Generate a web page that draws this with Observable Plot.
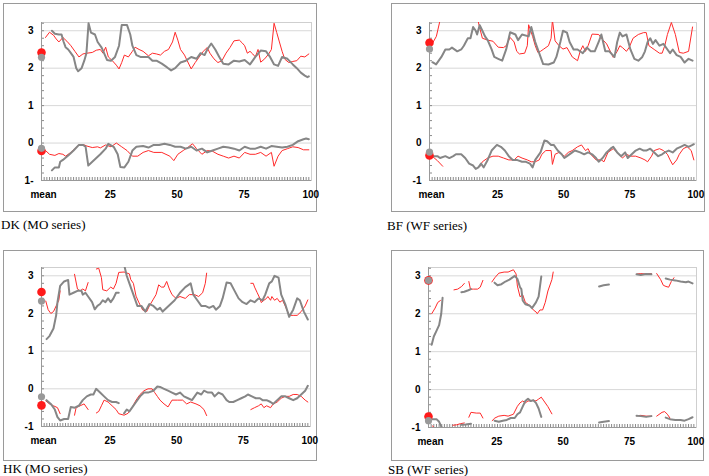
<!DOCTYPE html>
<html><head><meta charset="utf-8">
<script src="https://cdn.jsdelivr.net/npm/d3@7"></script>
<script src="https://cdn.jsdelivr.net/npm/@observablehq/plot@0.6"></script>
<style>
html,body{margin:0;padding:0;background:#fff}
body{width:709px;height:476px;position:relative;overflow:hidden}
.panel{position:absolute;border:1px solid #9a9a9a;box-sizing:border-box;background:#fff}
.panel svg{position:absolute;left:0;top:0}
.cap{position:absolute;font-family:"Liberation Serif","Times New Roman",serif;font-size:13px;line-height:13px;color:#000;white-space:nowrap}
</style></head><body>
<script>
// ---------- tick labels ----------
const xMajor = [0, 25, 50, 75, 100];
const xMinor = d3.range(1, 101);
const yMajor = [-1, 0, 1, 2, 3];
const yMinor = d3.range(-0.8, 3.21, 0.2);

// ---------- DK (MO series) ----------
const dkRedHi = [[1.5,2.82],[3,2.96],[4.5,2.88],[5.5,2.78],[6.5,2.7],[8,2.82],[9.5,2.72],[11,2.6],[12.5,2.45],[14,2.3],[15.5,2.38],[17,2.4],[19,2.42],[20.5,2.48],[22,2.5],[23,2.4],[24,2.56],[25,2.3],[26.5,2.2],[28,2.08],[29,1.98],[30,2.15],[31,2.35],[32.5,2.3],[34,2.45],[35,2.56],[36.5,2.5],[38,2.45],[40,2.33],[41.5,2.4],[43,2.38],[44.5,2.35],[46,2.45],[47.5,2.5],[49,2.7],[50,2.96],[51,2.75],[52,2.5],[53.5,2.35],[54.5,2.2],[56,1.98],[57.5,2.15],[59,2.3],[60.5,2.45],[62,2.55],[63,2.4],[64.5,2.25],[66,2.15],[67.5,2.2],[69,2.4],[70.5,2.55],[72,2.73],[74,2.75],[75,2.68],[76,2.6],[77,2.4],[78,2.45],[79,2.38],[80,2.3],[81,2.5],[82,2.16],[83.5,2.25],[85,2.38],[86,2.5],[87,3.2],[88,2.95],[89,2.7],[90,2.45],[91,2.24],[92.5,2.15],[94,2.18],[95.5,2.2],[97,2.32],[98.5,2.3],[100,2.38]];
const dkGrayHi = [[3.9,3.0],[5,2.92],[6.5,2.9],[7.5,2.9],[8.2,2.72],[9,2.56],[10,2.5],[11,2.4],[12,2.3],[13,2.0],[13.7,1.92],[15,2.0],[16,2.2],[16.8,2.4],[17.6,3.2],[18.5,2.95],[20,2.9],[21,2.7],[22.5,2.55],[24.5,2.22],[26,2.2],[27.5,2.3],[29,2.6],[30,3.15],[32,3.15],[33.2,2.9],[34,2.6],[35.5,2.35],[37,2.3],[38.5,2.3],[40,2.3],[41.5,2.2],[43,2.2],[45,2.12],[47,2.02],[48.5,1.94],[50,2.0],[52,2.15],[54,2.2],[56,2.3],[58,2.25],[59.5,2.4],[61,2.35],[62,2.5],[63.5,2.66],[65,2.5],[66.5,2.3],[68,2.12],[70,2.1],[72,2.2],[74,2.18],[76,2.22],[78,2.1],[80,2.3],[82,2.47],[84,2.45],[85.5,2.3],[87,2.1],[88.5,2.06],[90,2.3],[92,2.25],[94,2.1],[95.5,2.0],[97,1.88],[98.5,1.8],[99.5,1.76],[100,1.78]];
const dkRedLo = [[1.5,-0.2],[3,-0.3],[5,-0.33],[6.5,-0.28],[8,-0.3],[9,-0.35],[11,-0.25],[12.5,-0.15],[14,-0.05],[16,-0.05],[17,-0.08],[19,-0.12],[21,-0.1],[22,-0.13],[24,-0.05],[26,-0.1],[28,0.0],[30,-0.1],[32,-0.2],[34,-0.35],[36,-0.35],[38,-0.25],[40,-0.2],[42,-0.25],[45,-0.25],[48,-0.35],[49.5,-0.47],[51,-0.3],[53,-0.2],[55,-0.1],[56.5,-0.02],[58,-0.15],[60,-0.3],[62,-0.2],[64,-0.22],[66,-0.3],[68,-0.35],[70,-0.4],[72,-0.35],[74,-0.4],[76,-0.25],[78,-0.3],[80,-0.3],[82,-0.25],[84,-0.35],[86,-0.25],[87,-0.62],[88.5,-0.35],[90,-0.2],[92,-0.15],[94,-0.1],[96,-0.12],[98,-0.18],[100,-0.18]];
const dkGrayLo = [[3.9,-0.73],[5,-0.65],[6.5,-0.65],[7,-0.5],[8,-0.45],[10,-0.33],[12,-0.2],[14,-0.05],[15.5,-0.05],[16.5,-0.1],[17.5,-0.6],[19,-0.5],[20.5,-0.4],[22,-0.3],[24,-0.15],[25,-0.02],[27,-0.1],[28.5,-0.3],[29.5,-0.64],[31,-0.65],[32.5,-0.5],[34,-0.2],[35.5,-0.1],[38,-0.08],[40,-0.12],[42,-0.05],[44,-0.05],[46,-0.02],[48,-0.05],[50,-0.1],[52,-0.1],[54,-0.15],[56,-0.1],[58,-0.2],[60,-0.15],[62,-0.25],[64,-0.2],[66,-0.15],[68,-0.1],[70,-0.12],[72,-0.15],[74,-0.2],[76,-0.1],[78,-0.15],[80,-0.15],[82,-0.1],[84,-0.15],[86,-0.08],[88,-0.1],[90,-0.12],[92,-0.1],[94,-0.05],[96,0.05],[98,0.1],[99,0.12],[100,0.1]];
const dkMeanRed = [2.42, -0.21];
const dkMeanGray = [2.29, -0.14];

// ---------- BF (WF series) ----------
const bfRedHi = [[1.4,2.7],[2.6,2.85],[3.9,3.25],[4.5,3.4],[5,null],[18,3.4],[18.8,3.13],[20,2.8],[22,2.75],[24,2.72],[26,2.56],[28,2.55],[29,2.6],[30.5,2.82],[32,2.7],[33,2.45],[34,2.38],[36,2.4],[37,2.6],[37.5,3.16],[39,2.85],[40,2.6],[41,2.42],[42,2.45],[43,2.5],[45,2.6],[46,2.8],[46.5,3.29],[47.5,2.73],[49,2.6],[50.5,2.51],[52,2.55],[54,2.3],[56,2.2],[57,2.45],[58,2.6],[59,2.45],[60,2.6],[61.5,2.91],[64,2.9],[65,2.8],[67,2.65],[69.5,2.29],[71,2.45],[72,2.6],[73,2.55],[74.5,2.45],[75.5,2.55],[77,2.8],[79,2.9],[81,2.95],[82,2.95],[83,2.6],[85,2.5],[87,2.4],[88,2.4],[89,2.6],[90,2.9],[91.5,3.22],[93,2.9],[94.5,2.42],[96,2.4],[98,2.45],[99.5,3.1]];
const bfGrayHi = [[1.1,2.16],[2.5,2.1],[4.5,2.3],[6,2.5],[7.5,2.5],[8.5,2.55],[10.5,2.45],[12,2.5],[13,2.6],[14.5,2.8],[15.5,2.8],[16.5,3.1],[17.5,3.0],[18,2.9],[19,3.15],[20,3.0],[21,2.85],[22,2.75],[23.5,2.5],[24.5,2.3],[26,2.25],[27.5,2.2],[29,2.5],[30.5,2.96],[32.5,2.9],[33.5,2.75],[35,2.9],[37.5,2.85],[38.5,3.1],[40,2.7],[42,2.3],[43,2.11],[45,2.1],[47,2.15],[48,2.3],[49.5,2.7],[50.5,3.0],[52,2.95],[53,2.7],[54.5,2.5],[56,2.5],[58,2.4],[59.5,2.55],[61,2.45],[62.5,2.45],[64,2.7],[65,2.9],[66.5,2.45],[68,2.45],[70,2.3],[71,2.7],[72,2.95],[73,2.85],[74.5,2.9],[76,2.5],[77.5,2.25],[79,2.2],[80.5,2.3],[81.5,2.45],[82.5,2.7],[83.5,2.8],[84.5,2.65],[85.5,2.75],[87,2.6],[88.5,2.65],[90,2.5],[91,2.4],[92,2.5],[93.5,2.35],[95,2.3],[96.5,2.15],[98,2.25],[99.5,2.2]];
const bfRedLo = [[1,-0.35],[3,-0.47],[5,-0.62],[5.5,null],[19,-0.63],[20,-0.5],[22,-0.4],[24,-0.35],[26,-0.35],[28,-0.4],[30,-0.45],[32,-0.45],[33.5,-0.35],[35,-0.4],[37,-0.45],[38.5,-0.5],[40,-0.5],[41.5,-0.45],[42.5,-0.3],[44,-0.2],[46,-0.2],[46.5,-0.57],[47.5,-0.3],[49,-0.25],[51,-0.35],[52.5,-0.25],[54,-0.2],[56,-0.1],[57.5,-0.05],[59,-0.2],[60,-0.15],[61,-0.3],[63,-0.45],[65,-0.45],[66,-0.5],[67.5,-0.25],[69.5,-0.15],[71,-0.25],[73,-0.4],[74.5,-0.3],[76,-0.35],[78,-0.35],[80,-0.4],[81.5,-0.45],[82.5,-0.5],[84,-0.35],[85,-0.2],[87,-0.15],[88.5,-0.2],[90,-0.3],[91,-0.45],[92,-0.58],[93.5,-0.45],[94.5,-0.3],[96,-0.15],[97.5,-0.1],[99,-0.2],[100,-0.45]];
const bfGrayLo = [[1,-0.35],[3,-0.35],[4,-0.4],[6,-0.35],[7.5,-0.4],[9,-0.35],[10,-0.3],[12,-0.3],[13.5,-0.4],[15,-0.55],[16.5,-0.6],[17.5,-0.69],[18.5,-0.65],[19.5,-0.55],[20.5,-0.65],[22,-0.45],[23.5,-0.2],[25.5,-0.05],[27,-0.1],[28.5,-0.2],[30,-0.35],[31.5,-0.45],[33,-0.45],[35,-0.5],[36.5,-0.5],[38,-0.55],[39,-0.65],[40,-0.45],[42,-0.25],[43.5,0.07],[44.5,0.05],[46,-0.05],[47,-0.05],[48.5,-0.2],[50,-0.3],[51,-0.4],[52,-0.35],[54,-0.25],[55,-0.2],[57,-0.25],[58.5,-0.3],[60,-0.25],[61.5,-0.3],[63,-0.4],[64,-0.5],[65.5,-0.4],[67,-0.25],[68.5,-0.15],[69.5,-0.1],[71,-0.25],[72.5,-0.35],[74,-0.25],[75,-0.4],[76.5,-0.3],[78,-0.2],[79.5,-0.15],[81,-0.2],[82,-0.2],[83.5,-0.15],[85,-0.25],[86.5,-0.35],[88,-0.3],[89,-0.25],[90.5,-0.2],[92,-0.25],[93.5,-0.15],[95,-0.1],[96.5,-0.05],[98,-0.1],[99.5,-0.05],[100,-0.03]];
const bfMeanRed = [2.68, -0.33];
const bfMeanGray = [2.51, -0.24];

// ---------- HK (MO series) ----------
const hkRedHi = [[1.6,2.33],[2.5,2.1],[3.5,2.0],[4.5,2.05],[5.5,2.2],[6.5,2.35],[7,2.6],[7.5,null],[12.4,3.04],[13.5,2.65],[14.5,2.6],[15.5,2.65],[16.5,2.6],[17.5,2.82],[18,null],[20.6,3.18],[21.5,3.2],[22.5,2.95],[23,2.63],[24.5,2.6],[26,2.7],[27,2.65],[28,2.8],[29,3.09],[31,3.1],[33,3.05],[33.5,2.9],[34.5,2.8],[35.5,2.46],[36.5,2.3],[38,2.09],[39.5,2.05],[40.5,2.2],[42,2.38],[43,2.5],[44,2.76],[45,2.7],[46,2.7],[47,2.85],[48,2.65],[49,2.5],[50.5,2.4],[52,2.45],[54,2.4],[55.5,2.5],[57.5,2.5],[59,2.45],[60.5,2.55],[61.5,2.8],[62,3.07],[62.5,null],[78.6,2.8],[79.5,2.8],[80,2.7],[81,2.55],[82,2.4],[82.5,2.29],[83.5,2.35],[84.5,2.4],[85,2.45],[86,2.35],[86.5,2.45],[87.5,2.35],[88.5,2.4],[89.5,2.3],[90.5,2.35],[91.5,2.2],[93,1.95],[94.5,1.95],[96,1.95],[97.5,2.05],[99,2.2],[100,2.36]];
const hkGrayHi = [[1.9,1.32],[3,1.4],[4.5,1.6],[5.5,1.95],[6,2.3],[7,2.73],[8.5,2.85],[10,2.89],[10.5,2.5],[12,2.55],[13.5,2.6],[15,2.6],[15.5,2.5],[16.5,2.55],[17.5,2.45],[19,2.3],[20,2.11],[21,2.2],[22,2.25],[23,2.35],[24,2.3],[25,2.4],[26,2.3],[27,2.4],[28,2.55],[29,2.55],[30,null],[31,3.3],[32,3.0],[33,2.8],[34,2.6],[35,2.4],[36,2.2],[37.5,2.2],[39,2.05],[40.5,2.25],[42,2.2],[43.5,2.1],[44.5,2.15],[45.5,2.05],[47,2.15],[48.5,2.25],[50,2.35],[52,2.55],[54,2.7],[56,2.8],[57,2.5],[58.5,2.35],[60,2.2],[61.5,2.2],[63,2.15],[64.5,2.2],[65.5,2.1],[67,2.2],[68,2.4],[69.5,2.82],[71,2.8],[72.5,2.6],[74,2.4],[75.5,2.3],[77,2.25],[78.5,2.35],[80,2.3],[81.5,2.4],[83,2.35],[84,2.5],[85.5,2.8],[86.5,2.85],[87.5,3.0],[89,2.95],[90,2.5],[91.5,2.25],[93,1.91],[94.5,2.1],[96,2.4],[97,2.35],[98.5,2.05],[100,1.84]];
const hkRedLo = [[1.6,-0.32],[3,-0.4],[4.5,-0.45],[6,-0.5],[7,-0.66],[7.5,null],[12.4,-0.7],[13,-0.5],[14.5,-0.45],[16,-0.4],[17.5,-0.55],[18,null],[20.6,-0.64],[21.5,-0.6],[22.5,-0.45],[23.5,-0.3],[25,-0.35],[26.5,-0.45],[28,-0.55],[29,-0.66],[31,-0.7],[32.5,-0.65],[34,-0.5],[35.5,-0.3],[37,-0.15],[38.5,-0.05],[40,0.0],[41.5,0.0],[42.5,-0.1],[43.5,-0.2],[44.5,-0.3],[46,-0.4],[47.5,-0.48],[49,-0.3],[51,-0.3],[53,-0.3],[54.5,-0.4],[56,-0.35],[58,-0.4],[59.5,-0.45],[61,-0.55],[62,-0.71],[62.5,null],[78.6,-0.55],[80,-0.5],[81.5,-0.45],[82.5,-0.4],[83.5,-0.5],[84.5,-0.45],[86,-0.5],[87,-0.4],[88.5,-0.35],[90,-0.25],[91.5,-0.2],[93,-0.2],[94.5,-0.15],[96,-0.15],[97.5,-0.2],[99,-0.3],[100,-0.35]];
const hkGrayLo = [[1.9,-0.3],[3.5,-0.4],[5,-0.55],[6,-0.75],[7,-0.84],[8.5,-0.8],[10,-0.8],[11,-0.48],[12.5,-0.5],[14,-0.45],[15.5,-0.3],[17,-0.2],[18.5,-0.15],[19.5,-0.15],[20.5,0.0],[22,-0.1],[23.5,-0.2],[25,-0.3],[26.5,-0.35],[28,-0.35],[29,-0.38],[30,null],[31,-0.65],[32,-0.55],[33,-0.6],[34,-0.5],[35.5,-0.35],[37,-0.2],[38.5,-0.1],[40,-0.1],[42,-0.05],[43.5,0.06],[44.5,0.05],[46,0.0],[47.5,-0.05],[49,-0.1],[50.5,-0.15],[52,-0.1],[53.5,-0.2],[55,-0.25],[56.5,-0.3],[57.5,-0.2],[58.5,-0.1],[60,-0.15],[61,-0.05],[62.5,-0.1],[64,-0.1],[65,-0.2],[66.5,-0.1],[68,-0.15],[69.5,-0.3],[70.5,-0.35],[72,-0.35],[73.5,-0.3],[75,-0.25],[76.5,-0.2],[77.5,-0.15],[79,-0.2],[80.5,-0.25],[82,-0.25],[83,-0.3],[84.5,-0.3],[86,-0.35],[87,-0.4],[88.5,-0.3],[90,-0.2],[91.5,-0.2],[93,-0.25],[94.5,-0.3],[96,-0.25],[97.5,-0.15],[99,-0.05],[100,0.08]];
const hkMeanRed = [2.57, -0.44];
const hkMeanGray = [2.33, -0.21];

// ---------- SB (WF series) ----------
const sbRedHi = [[1.2,2.0],[2.5,2.15],[3.5,2.3],[4.5,2.35],[5,null],[9.6,2.63],[11,2.65],[12.5,2.72],[13.5,2.8],[14.2,null],[15.2,2.85],[15.8,2.65],[17,2.65],[18.5,2.65],[19.5,2.7],[20.5,2.88],[21,null],[23.9,2.84],[25,2.95],[26.5,3.07],[28.5,3.1],[30,3.1],[32,3.16],[33,3.05],[33.5,2.73],[34.5,2.45],[35.5,2.5],[36.5,2.3],[37.5,2.25],[38.5,2.2],[39.5,2.1],[40.5,2.05],[41,2.0],[42,2.1],[43,2.1],[44,2.3],[45,2.6],[46.5,2.9],[47,3.1],[47.5,null],[78.6,3.05],[80,3.06],[82,3.05],[84,3.06],[84.5,null],[86,3.06],[87.5,2.9],[88.5,2.75],[89.5,2.72],[90.5,2.7],[91.5,2.85],[92.5,2.95]];
const sbGrayHi = [[1.2,1.18],[2,1.4],[3,1.55],[4,1.7],[4.8,2.0],[5.3,2.42],[6,null],[12.4,2.57],[13.5,2.58],[15,2.62],[16,2.65],[16.5,null],[24.9,2.82],[26,2.75],[27.5,2.78],[29,2.85],[30.5,2.9],[32.5,3.0],[33.5,2.92],[34.5,2.7],[35,2.65],[35.5,2.35],[36.5,2.25],[38,2.22],[39,2.15],[40.5,2.3],[41.5,2.45],[42.5,2.98],[43,null],[64.3,2.72],[66,2.75],[68,2.77],[68.5,null],[78.4,3.04],[80,3.02],[82,3.05],[84,3.04],[84.5,null],[89.4,2.93],[91,2.9],[93,2.88],[95,2.85],[97,2.83],[98,2.85],[99.5,2.8]];
const sbRedLo = [[1.5,-0.96],[2.5,-1.02],[4.5,-1.02],[5,null],[9.2,-0.94],[10.5,-0.93],[12,-0.9],[13.5,-0.88],[14.2,null],[15.2,-0.73],[16,-0.6],[18,-0.62],[19.5,-0.62],[20.5,-0.75],[21,null],[24,-0.82],[25,-0.75],[26.5,-0.7],[28.5,-0.68],[30,-0.7],[32,-0.65],[33.5,-0.44],[34.5,-0.35],[35.5,-0.3],[36.5,-0.35],[37.5,-0.3],[38.5,-0.3],[39.5,-0.28],[40.5,-0.3],[41.5,-0.25],[42.5,-0.2],[43.5,-0.3],[45,-0.45],[46.5,-0.64],[47,null],[78.4,-0.69],[80,-0.68],[82,-0.7],[84,-0.7],[84.5,null],[86,-0.7],[88,-0.6],[89,-0.58],[90,-0.65],[91,-0.75]];
const sbGrayLo = [[1.5,-0.78],[3,-0.78],[4,-0.85],[5,-1.0],[5.5,null],[12.4,-0.93],[14,-0.92],[16,-0.9],[16.5,null],[24.9,-0.82],[26.5,-0.85],[28,-0.82],[29.5,-0.8],[31,-0.75],[32.5,-0.75],[33.5,-0.65],[34.5,-0.6],[35.5,-0.45],[36.5,-0.3],[37.5,-0.24],[38.5,-0.3],[39.5,-0.28],[40.5,-0.35],[41.5,-0.5],[42.5,-0.72],[43,null],[64.3,-0.87],[66,-0.85],[68,-0.83],[68.5,null],[78.4,-0.69],[80,-0.7],[82,-0.72],[84,-0.7],[84.5,null],[89.4,-0.74],[91,-0.78],[93,-0.8],[95,-0.8],[96.5,-0.82],[98,-0.78],[99.5,-0.73]];
const sbMeanRed = [2.88, -0.71];
const sbMeanGray = [2.88, -0.82];

// ---------- panel table ----------
const panels = [
  {title: "DK (MO series)", red: [dkRedHi, dkRedLo], gray: [dkGrayHi, dkGrayLo], meanRed: dkMeanRed, meanGray: dkMeanGray, minusLabel: "1-",
   box: {left: 3, top: 3, w: 314, h: 209}, m: {l: 37, r: 5, t: 18, b: 31}, cap: {left: 1, top: 218}},
  {title: "BF (WF series)", red: [bfRedHi, bfRedLo], gray: [bfGrayHi, bfGrayLo], meanRed: bfMeanRed, meanGray: bfMeanGray, minusLabel: "-1",
   box: {left: 391, top: 3, w: 314, h: 209}, m: {l: 37, r: 8, t: 18, b: 31}, cap: {left: 387, top: 219}},
  {title: "HK (MO series)", red: [hkRedHi, hkRedLo], gray: [hkGrayHi, hkGrayLo], meanRed: hkMeanRed, meanGray: hkMeanGray, minusLabel: "-1",
   box: {left: 3, top: 250, w: 314, h: 211}, m: {l: 37, r: 6, t: 16, b: 34}, cap: {left: 3, top: 462}},
  {title: "SB (WF series)", red: [sbRedHi, sbRedLo], gray: [sbGrayHi, sbGrayLo], meanRed: sbMeanRed, meanGray: sbMeanGray, minusLabel: "-1",
   box: {left: 391, top: 250, w: 313, h: 211}, m: {l: 36, r: 7, t: 16, b: 33}, cap: {left: 388, top: 463}}
];

const toRows = arr => arr.map(([x, y]) => ({x, y}));
const yMin = -1, yMax = 3.22;
const xDom = [0, 101];

for (const p of panels) {
  const div = document.createElement("div");
  div.className = "panel";
  Object.assign(div.style, {left: p.box.left + "px", top: p.box.top + "px", width: p.box.w + "px", height: p.box.h + "px"});
  const W = p.box.w - 2, H = p.box.h - 2;
  const meansRed = p.meanRed.map(y => ({x: 0, y}));
  const meansGray = p.meanGray.map(y => ({x: 0, y}));
  const lineMarks = [];
  for (const s of p.red) lineMarks.push(Plot.line(toRows(s), {x: "x", y: "y", stroke: "#ff2a2a", strokeWidth: 1, clip: true}));
  for (const s of p.gray) lineMarks.push(Plot.line(toRows(s), {x: "x", y: "y", stroke: "#868686", strokeWidth: 2, clip: true}));
  const chart = Plot.plot({
    width: W, height: H,
    marginLeft: p.m.l, marginRight: p.m.r, marginTop: p.m.t, marginBottom: p.m.b,
    x: {domain: xDom, label: null},
    y: {domain: [yMin, yMax], label: null},
    style: {fontFamily: "'Liberation Sans', Arial, sans-serif", fontSize: "10px", fontWeight: "bold", color: "#000", background: "transparent", overflow: "visible"},
    marks: [
      Plot.gridY(yMajor, {stroke: "#d8d8d8", strokeOpacity: 1}),
      Plot.frame({stroke: "#cfcfcf"}),
      // minor ticks, pointing inward from the axes
      Plot.axisX(xMinor, {tickSize: 3, dy: -3, text: null, stroke: "#8a8a8a"}),
      Plot.axisY(yMinor, {tickSize: 3, dx: 3, text: null, stroke: "#8a8a8a"}),
      Plot.axisY(yMajor, {tickSize: 0, tickPadding: 8, fill: "#000", tickFormat: d => d === -1 ? p.minusLabel : String(d)}),
      Plot.axisX(xMajor, {tickSize: 0, tickPadding: 10, fill: "#000", dx: 2, tickFormat: d => d === 0 ? "mean" : String(d)}),
      Plot.ruleX([0], {stroke: "#999"}),
      Plot.ruleY([yMin], {stroke: "#999"}),
      ...lineMarks,
      Plot.dot(meansRed, {x: "x", y: "y", r: 4.3, fill: "#ff1a1a"}),
      Plot.dot(meansGray, {x: "x", y: "y", r: 3.6, fill: "#999"})
    ]
  });
  div.appendChild(chart);
  document.body.appendChild(div);
  const cap = document.createElement("div");
  cap.className = "cap";
  cap.textContent = p.title;
  Object.assign(cap.style, {left: p.cap.left + "px", top: p.cap.top + "px"});
  document.body.appendChild(cap);
}
</script>
</body></html>
